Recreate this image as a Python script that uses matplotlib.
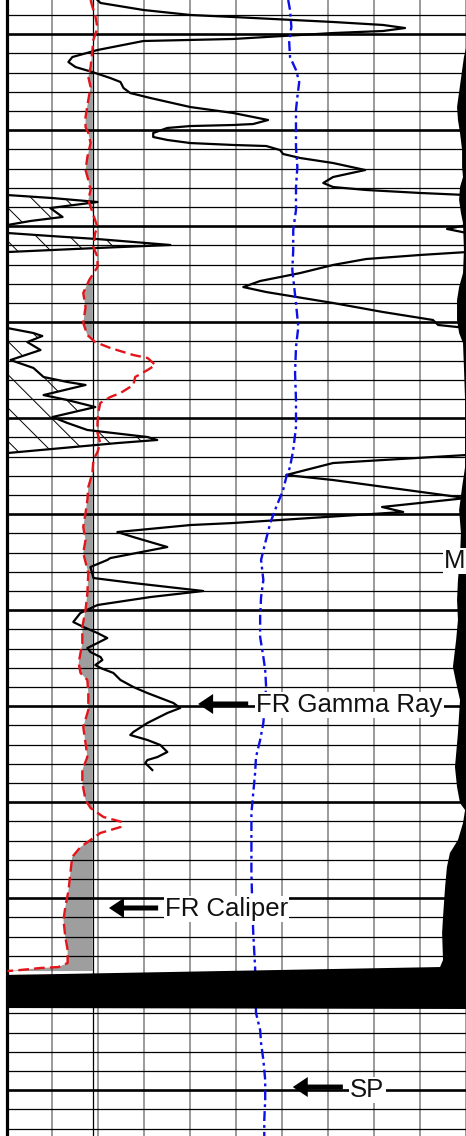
import matplotlib.pyplot as plt
import numpy as np

# depth (ft) at the top edge of the picture; all depths below are ft below it
TOP = 5006.44
BOTTOM = TOP + 118.33
BIT_SIZE = 7.875  # in

# FR Gamma Ray (API, 0-150 across the track, values > 150 wrap around)
gr_depth = [0, 0.31, 1.04, 1.56, 1.77, 2.29, 2.60, 2.92, 3.23, 3.44,
            4.06, 4.27, 5.21, 5.94, 6.46, 6.98, 7.50, 8.13, 8.54, 9.17,
            9.69, 10.21, 11.15, 11.77, 12.19, 12.50, 12.92, 13.02, 13.13, 13.33,
            13.85, 14.27, 14.58, 14.90, 15.10, 15.21, 15.63, 16.04, 16.46, 16.98,
            17.71, 18.44, 19.06, 19.48, 19.79, 20.10, 20.31, 20.63, 21.04, 21.67,
            22.60, 23.02, 23.44, 23.85, 24.27, 24.58, 24.90, 25.52, 25.83, 26.25,
            26.56, 26.98, 27.60, 28.44, 29.27, 29.90, 30.42, 31.56, 32.50, 33.33,
            33.85, 34.17, 34.69, 35.00, 35.63, 36.46, 37.50, 38.33, 39.27, 39.79,
            40.10, 41.15, 41.67, 42.40, 43.44, 44.06, 44.79, 45.52, 45.83, 46.15,
            47.19, 47.40, 48.23, 49.48, 50.00, 51.88, 52.81, 53.33, 54.48, 54.69,
            55.42, 55.94, 56.98, 58.13, 58.33, 59.06, 60.21, 60.73, 61.56, 62.19,
            63.02, 63.86, 64.79, 65.31, 65.94, 66.46, 66.98, 67.50, 67.92, 68.44,
            68.75, 69.27, 69.58, 70.10, 70.83, 71.56, 72.19, 72.71, 73.23, 73.75,
            74.27, 75.31, 76.25, 76.56, 77.08, 77.60, 78.33, 78.85, 79.17, 79.48,
            80.21]
gr_api = [29.7, 30.7, 44.7, 60.0, 74.0, 106.6, 122.9, 130.1, 122.9, 106.6,
          74.0, 44.7, 29.7, 21.5, 20.2, 22.5, 28.0, 33.9, 37.2, 38.2,
          40.4, 47.0, 60.0, 74.0, 80.5, 85.4, 80.5, 74.0, 60.0, 52.5,
          47.9, 47.9, 52.5, 60.0, 74.0, 84.8, 89.3, 90.3, 95.9, 106.6,
          117.1, 106.6, 103.4, 106.6, 117.4, 135.0, 150.0, 165.0, 179.7, 164.3,
          168.3, 157.8, 150.3, 143.8, 150.3, 164.3, 179.7, 203.5, 179.7, 150.5,
          135.0, 117.4, 106.6, 95.9, 82.8, 77.3, 84.8, 106.6, 122.9, 139.2,
          140.9, 150.3, 158.8, 161.7, 156.8, 161.1, 151.3, 158.8, 162.1, 169.9,
          175.8, 162.1, 169.9, 179.0, 165.0, 169.9, 176.4, 196.0, 199.2, 186.2,
          150.3, 150.0, 106.6, 91.3, 106.6, 150.0, 122.6, 129.5, 74.0, 60.0,
          36.2, 41.4, 52.5, 33.9, 32.9, 27.4, 28.4, 41.4, 64.2, 47.0,
          29.7, 24.1, 21.8, 25.1, 29.7, 32.9, 29.7, 26.4, 27.4, 30.7,
          31.3, 29.0, 30.7, 34.9, 37.2, 41.4, 46.0, 50.2, 54.5, 56.7,
          52.5, 46.0, 41.4, 40.4, 46.0, 50.2, 52.5, 49.3, 46.0, 45.3,
          47.6]

# FR Caliper (in, 6-16 across the track)
cal_depth = [0, 0.73, 1.56, 2.92, 4.17, 5.21, 6.98, 8.02, 9.06, 10.42,
             12.19, 13.23, 13.85, 14.90, 16.35, 17.71, 18.75, 19.79, 20.83, 21.56,
             23.65, 24.27, 25.73, 26.77, 27.81, 29.17, 30.52, 31.98, 33.65, 34.90,
             35.63, 36.25, 36.98, 37.29, 38.02, 38.54, 39.27, 40.10, 40.94, 41.35,
             41.98, 42.92, 44.06, 45.10, 46.15, 47.08, 47.92, 49.27, 50.73, 52.08,
             53.44, 54.90, 56.25, 57.60, 59.69, 61.77, 63.54, 65.31, 66.98, 69.06,
             70.10, 70.83, 72.19, 73.96, 75.73, 77.40, 78.85, 80.21, 81.56, 83.33,
             84.17, 85.10, 85.63, 86.15, 86.77, 87.29, 88.23, 89.27, 90.94, 92.71,
             94.48, 95.83, 97.60, 98.96, 100.31, 100.73, 100.83, 101.04, 101.15]
cal_in = [7.83, 7.87, 7.93, 7.98, 7.89, 7.87, 7.83, 7.78, 7.83, 7.78,
          7.72, 7.72, 7.78, 7.83, 7.76, 7.72, 7.78, 7.83, 7.78, 7.83,
          7.98, 7.93, 7.89, 7.98, 7.98, 7.80, 7.67, 7.72, 7.67, 7.76,
          7.93, 8.26, 8.76, 9.07, 9.24, 9.07, 8.80, 8.76, 8.48, 8.26,
          8.04, 8.00, 7.98, 7.98, 8.04, 7.98, 7.89, 7.87, 7.78, 7.76,
          7.72, 7.67, 7.72, 7.67, 7.78, 7.76, 7.72, 7.65, 7.65, 7.57,
          7.61, 7.76, 7.78, 7.78, 7.67, 7.72, 7.76, 7.65, 7.65, 7.72,
          7.83, 8.11, 8.52, 8.48, 8.04, 7.89, 7.61, 7.43, 7.39, 7.35,
          7.28, 7.24, 7.28, 7.33, 7.33, 7.13, 6.74, 6.30, 6.02]

# SP (mV, -100 to 0 across the track)
sp_depth = [0, 1.04, 2.81, 4.17, 5.94, 7.29, 8.54, 10.10, 11.46, 13.23,
            15.31, 17.40, 19.48, 21.88, 23.96, 26.04, 28.13, 31.56, 34.06, 36.15,
            38.85, 41.67, 44.48, 46.88, 48.65, 49.69, 51.04, 52.81, 54.48, 56.56,
            58.33, 60.42, 62.19, 64.27, 66.35, 68.44, 69.79, 71.56, 75.31, 77.08,
            78.85, 80.52, 82.60, 84.69, 87.19, 90.94, 94.48, 97.19, 100.73, 105.52,
            107.29, 108.65, 110.42, 112.50, 114.58, 116.67, 118.33]
sp_mv = [-38.7, -38.3, -38.0, -38.5, -38.3, -37.0, -36.3, -36.7, -37.0, -37.0,
         -37.0, -36.7, -37.0, -37.0, -37.6, -37.6, -37.8, -37.0, -36.5, -37.0,
         -37.2, -37.0, -37.0, -37.6, -38.3, -39.1, -39.8, -41.3, -42.6, -43.7,
         -44.6, -44.1, -44.6, -44.8, -44.8, -44.1, -43.7, -43.5, -44.1, -44.8,
         -45.7, -45.9, -46.3, -46.7, -46.7, -46.7, -46.5, -46.3, -45.9, -45.7,
         -44.8, -44.6, -44.1, -43.7, -43.7, -43.9, -43.9]

# resistivity curve on the right edge (ohm.m, 0-20), shaded to the right
res_depth = [0, 5.0, 5.94, 11.15, 12.50, 13.85, 15.63, 17.40, 18.44, 19.48,
             20.83, 22.19, 23.23, 26.04, 28.44, 29.90, 31.25, 33.33, 34.69, 35.73,
             38.23, 41.67, 48.65, 50.73, 53.13, 55.52, 58.02, 60.42, 62.50, 64.58,
             66.67, 69.48, 71.56, 72.92, 76.35, 79.90, 81.98, 83.65, 84.38, 85.73,
             87.50, 88.85, 90.31, 92.40, 95.52, 97.19, 100.00, 100.73, 101.56, 105.00,
             105.10, 118.33]
res_ohmm = [20.0, 20.0, 19.91, 19.61, 19.65, 19.74, 19.83, 19.83, 19.87, 19.74,
            19.70, 19.78, 19.87, 19.91, 19.87, 19.70, 19.61, 19.61, 19.70, 19.87,
            19.91, 19.96, 19.96, 19.83, 19.70, 19.78, 19.74, 19.65, 19.61, 19.65,
            19.57, 19.43, 19.61, 19.74, 19.65, 19.52, 19.61, 19.74, 19.96, 19.87,
            19.65, 19.30, 19.17, 19.09, 19.00, 18.96, 19.00, 18.87, 0.0, 0.0,
            20.0, 20.0]

# curve labels: (text, arrow tip x, arrow tail x, text x as track fraction, arrow depth, text baseline depth)
labels = [("FR Gamma Ray", 0.417, 0.526, 0.543, 73.33, 74.17),
          ("FR Caliper", 0.223, 0.330, 0.345, 94.58, 95.42),
          ("SP", 0.623, 0.732, 0.748, 113.23, 114.27)]

plt.rcParams['font.family'] = ['Liberation Sans', 'DejaVu Sans']
plt.rcParams['hatch.linewidth'] = 0.7


def bare(a):
    a.tick_params(which='both', length=0, labelbottom=False, labelleft=False,
                  labeltop=False, labelright=False)
    for s in a.spines.values():
        s.set_visible(False)


fig = plt.figure(figsize=(4.66, 11.36), dpi=100)
ax = fig.add_axes([6.5 / 466, 0, 1 - 6.5 / 466, 1])

# base track: grid + gamma ray
gd = TOP + np.array(gr_depth)
gr = np.array(gr_api)
ax.set_xlim(0, 150)
ax.set_ylim(BOTTOM, TOP)
ax.set_xticks(np.arange(0, 151, 15))
ax.set_yticks(np.arange(5010, BOTTOM, 10))
ax.set_yticks(np.arange(5008, BOTTOM, 2), minor=True)
ax.grid(axis='x', which='major', color='#7f7f7f', lw=1.1)
ax.grid(axis='y', which='major', color='black', lw=1.9)
ax.grid(axis='y', which='minor', color='black', lw=0.9)
ax.set_axisbelow(True)
bare(ax)
ax.spines['left'].set_visible(True)
ax.spines['left'].set_linewidth(2.3)

ax.fill_betweenx(gd, 0, gr - 150, where=gr > 150, interpolate=True,
                 facecolor='none', edgecolor='black', hatch='\\', linewidth=0)
ax.plot(gr - 150, gd, color='black', lw=1.6)
ax.plot(gr, gd, color='black', lw=1.6)

# caliper with bit size
ax_cal = ax.twiny()
ax_cal.set_xlim(6, 16)
bare(ax_cal)
cd = TOP + np.array(cal_depth)
cal = np.array(cal_in)
ax_cal.fill_betweenx(cd, cal, BIT_SIZE, where=cal < BIT_SIZE, interpolate=True,
                     color='black', alpha=0.38, linewidth=0)
ax_cal.axvline(BIT_SIZE, color='black', lw=0.9)
ax_cal.plot(cal, cd, color='#e3151b', lw=1.7, dashes=(4.5, 2.2))

# SP
ax_sp = ax.twiny()
ax_sp.set_xlim(-100, 0)
bare(ax_sp)
ax_sp.plot(sp_mv, TOP + np.array(sp_depth), color='#0d10e6', lw=1.7,
           dashes=(4.2, 1.7, 1.2, 1.7))

# resistivity shading
ax_res = ax.twiny()
ax_res.set_xlim(0, 20)
bare(ax_res)
ax_res.fill_betweenx(TOP + np.array(res_depth), res_ohmm, 20, color='black', linewidth=0)

# labels
trans = ax_res.get_yaxis_transform()
for name, tip, tail, tx, ad, td in labels:
    ax_res.annotate('', xy=(tip, TOP + ad), xycoords=trans,
                    xytext=(tail, TOP + ad), textcoords=trans,
                    arrowprops=dict(arrowstyle='simple,head_length=1.08,head_width=1.44,tail_width=0.36',
                                    mutation_scale=10, color='black', lw=0,
                                    shrinkA=0, shrinkB=0), zorder=9)
    ax_res.text(tx, TOP + td, name, transform=trans, fontsize=18.5, va='baseline',
                ha='left', color='#111111', zorder=10,
                bbox=dict(facecolor='white', edgecolor='none', pad=1))
ax_res.text(0.952, TOP + 59.17, "M", transform=trans, fontsize=18.5, va='baseline',
            ha='left', color='#111111', zorder=10,
            bbox=dict(facecolor='white', edgecolor='none', pad=1))

fig.savefig('out.png', dpi=100)
